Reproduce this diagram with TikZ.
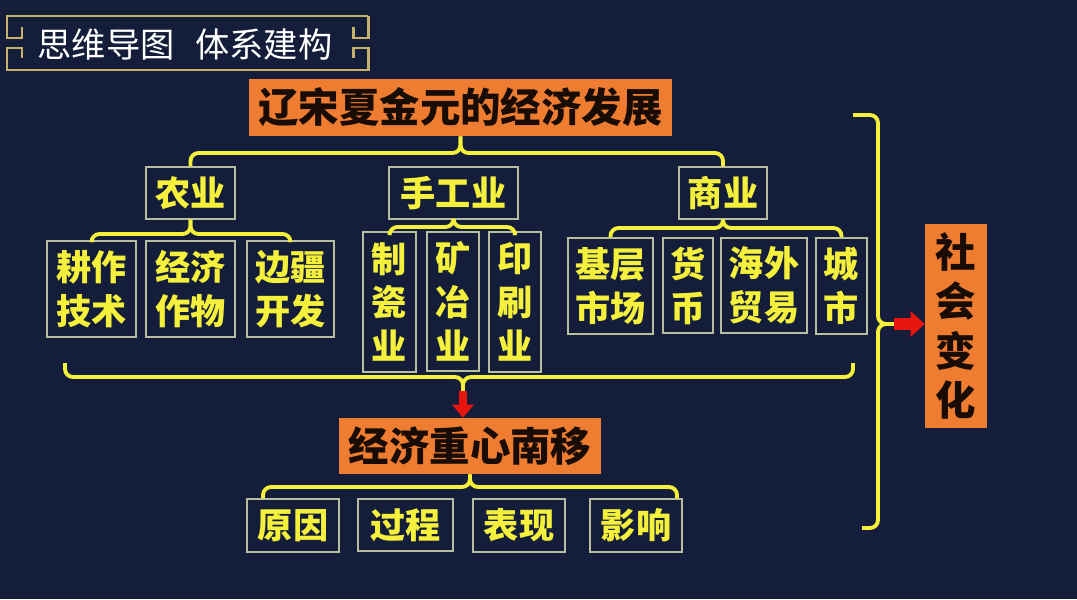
\documentclass[tikz,border=0pt]{standalone}
\usepackage{fontspec}
\newfontfamily\cjk{Noto Sans CJK SC}
\usetikzlibrary{arrows.meta}
\definecolor{navy}{HTML}{141E3A}
\definecolor{orng}{HTML}{EE7D32}
\definecolor{ylw}{HTML}{F4F03C}
\definecolor{boxline}{HTML}{B8BDA0}
\definecolor{gold}{HTML}{C6B06A}
\definecolor{arrred}{HTML}{E8150E}

\begin{document}
\begin{tikzpicture}[x=0.02cm, y=0.02cm,
  leaf/.style={draw=boxline, line width=0.7pt, text=ylw, align=center, inner sep=0pt,
    font=\cjk\bfseries\fontsize{20}{25}\selectfont},
  head/.style={fill=orng, text=black!90!orng, align=center, inner sep=0pt},
  brace/.style={draw=ylw, line width=2.2pt, rounded corners=0.16cm},
  frame/.style={draw=gold, line width=1.7pt}]
\fill[navy] (0,0) rectangle (1077,-599);
% title frame
\draw[frame] (368,-16) -- (7,-16) -- (7,-38) -- (22,-38) -- (22,-27);
\draw[frame] (22,-58) -- (22,-48) -- (7,-48) -- (7,-70) -- (368,-70) -- (368,-48) -- (353,-48) -- (353,-58);
\draw[frame] (353,-27) -- (353,-38) -- (368,-38) -- (368,-16);
\node[text=white, font=\cjk\fontsize{19.5}{20}\selectfont] (ttl) at (185,-44) {思维导图\hspace{0.6em}体系建构};
% orange heads
\node[head, minimum width=423*0.02cm, minimum height=57*0.02cm, font=\cjk\bfseries\fontsize{23}{26}\selectfont] (top) at (460.5,-107.5) {辽宋夏金元的经济发展};
\node[head, minimum width=262*0.02cm, minimum height=56*0.02cm, font=\cjk\bfseries\fontsize{23}{26}\selectfont] (zhongxin) at (470,-446) {经济重心南移};
\node[head, minimum width=62*0.02cm, minimum height=204*0.02cm, font=\cjk\bfseries\fontsize{23}{28}\selectfont] (shehui) at (956,-326) {社\\会\\变\\化};
% boxes
\foreach \n/\x/\y/\w/\h/\t in {nongye/190.5/193/89/52/农业, shougong/453.5/193/129/52/手工业, shangye/723/193/88/52/商业,
  gengzuo/91.5/289/89/96/耕作\\技术, jingji/190.5/289/89/96/经济\\作物, bianjiang/290.5/289/87/96/边疆\\开发,
  zhici/389.5/302/53/140/制\\瓷\\业, kuangye/453/301.5/52/139/矿\\冶\\业, yinshua/515/302/52/140/印\\刷\\业,
  shichang/610.5/286/85/96/基层\\市场, huobi/688/285.5/50/95/货\\币, maoyi/764/285.5/86/95/海外\\贸易, chengshi/841.5/286/51/96/城\\市,
  yuanyin/293/525.5/92/53/原因, guocheng/405.5/525/95/52/过程, biaoxian/519/525.5/92/53/表现, yingxiang/636/525.5/92/53/影响}{
\node[leaf, minimum width=\w*0.02cm, minimum height=\h*0.02cm] (\n) at (\x,-\y) {\t};
}
% braces
\foreach \p/\a/\b/\hh in {top/nongye/shangye/153, nongye/gengzuo/bianjiang/234, shougong/zhici/yinshua/227, shangye/shichang/chengshi/228}{
\draw[brace] (\a.north) |- (\p.south |- 0,-\hh) -- (\p.south);
\draw[brace] (\b.north) |- (\p.south |- 0,-\hh) -- (\p.south);
}
\draw[brace] ([xshift=-0.6cm]yuanyin.north) |- (zhongxin.south |- 0,-487) -- (zhongxin.south);
\draw[brace] ([xshift=0.82cm]yingxiang.north) |- (zhongxin.south |- 0,-487) -- (zhongxin.south);
\coordinate (bl) at (65,-363);
\coordinate (br) at (853,-363);
\coordinate (bc) at (463,-391);
\draw[brace] (bl) |- (bc |- 0,-377) -- (bc);
\draw[brace] (br) |- (bc |- 0,-377) -- (bc);
\draw[arrred, line width=0.16cm, -{Triangle[length=0.26cm, width=0.42cm]}] (bc) -- (bc |- zhongxin.north);
\coordinate (rt) at (853,-115);
\coordinate (rb) at (862,-528);
\coordinate (rc) at (894,-324);
\draw[brace] (rt) -| (878,-324) -- (rc);
\draw[brace] (rb) -| (878,-324) -- (rc);
\draw[arrred, line width=0.24cm, -{Triangle[length=0.28cm, width=0.5cm]}] (rc) -- (rc -| shehui.west);
\end{tikzpicture}
\end{document}
